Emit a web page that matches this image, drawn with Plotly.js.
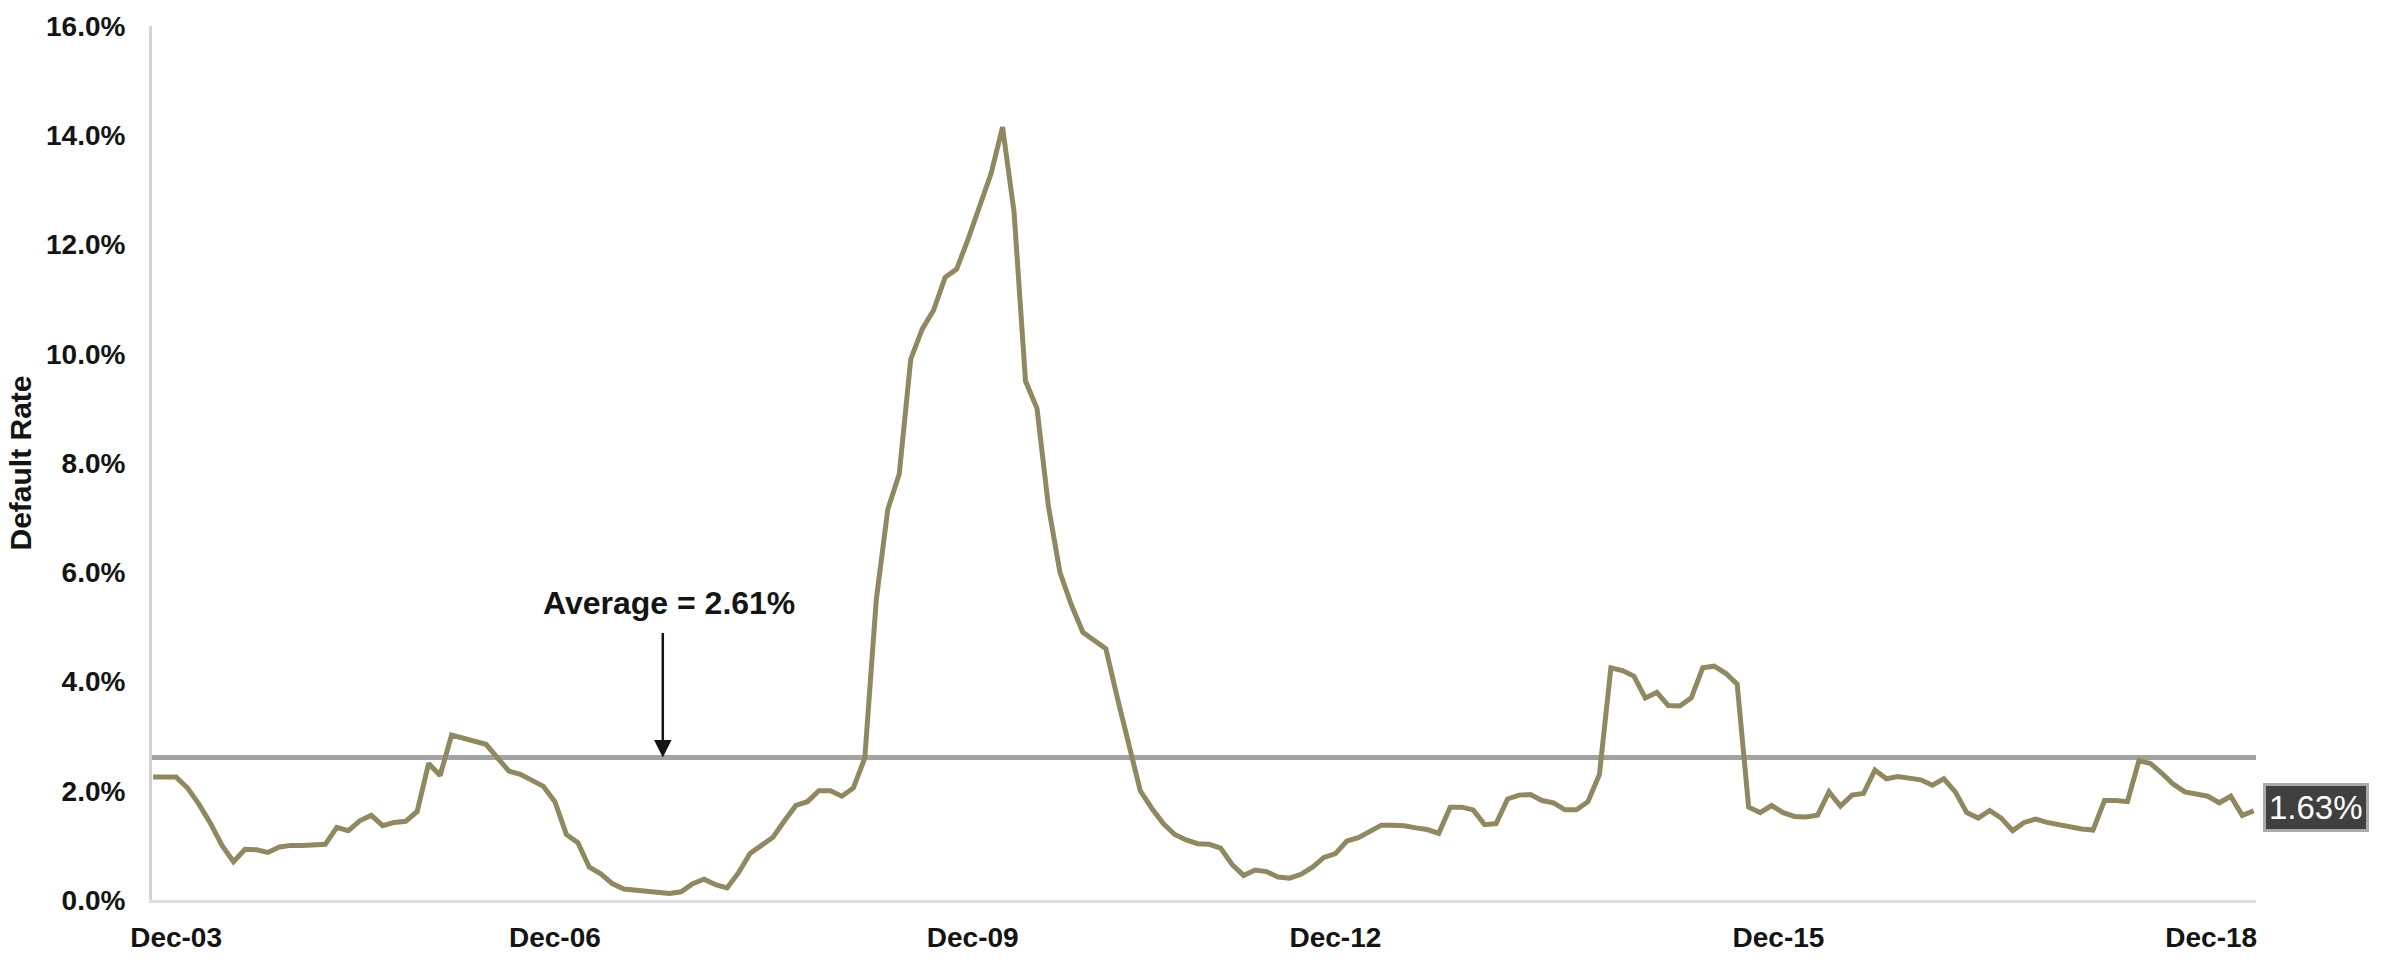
<!DOCTYPE html>
<html>
<head>
<meta charset="utf-8">
<script src="https://cdn.plot.ly/plotly-3.0.1.min.js"></script>
<style>
  html, body { margin: 0; padding: 0; background: #ffffff; }
  #chart { width: 2403px; height: 960px; }
</style>
</head>
<body>
<div id="chart"></div>
<script>
// Monthly default rate (%)
const defaultRate = [
  2.25, 2.25, 2.25, 2.05, 1.75, 1.40, 1.00, 0.70, 0.93, 0.92,
  0.87, 0.97, 1.00, 1.00, 1.00, 1.02, 1.33, 1.27, 1.45, 1.55,
  1.36, 1.42, 1.44, 1.62, 2.50, 2.28, 3.02, 2.97, 2.92, 2.85,
  2.60, 2.36, 2.30, 2.20, 2.08, 1.80, 1.20, 1.05, 0.60, 0.48,
  0.30, 0.20, 0.18, 0.16, 0.12, 0.12, 0.15, 0.30, 0.38, 0.28,
  0.22, 0.50, 0.85, 1.00, 1.15, 1.45, 1.73, 1.80, 2.00, 2.00,
  1.90, 2.05, 2.60, 5.50, 7.15, 7.80, 9.90, 10.45, 10.80, 11.40,
  11.55, 12.10, 12.70, 13.30, 14.15, 12.60, 9.50, 9.00, 7.20, 6.00,
  5.40, 4.90, 4.75, 4.60, 3.70, 2.80, 2.00, 1.68, 1.40, 1.20,
  1.10, 1.03, 1.02, 0.95, 0.65, 0.45, 0.55, 0.52, 0.42, 0.40,
  0.47, 0.60, 0.78, 0.85, 1.08, 1.14, 1.25, 1.37, 1.37, 1.36,
  1.32, 1.29, 1.22, 1.70, 1.70, 1.65, 1.38, 1.40, 1.85, 1.92,
  1.93, 1.82, 1.78, 1.65, 1.65, 1.80, 2.30, 4.25, 4.20, 4.10,
  3.70, 3.80, 3.56, 3.55, 3.70, 4.25, 4.28, 4.15, 3.95, 1.70,
  1.60, 1.73, 1.60, 1.53, 1.52, 1.55, 1.98, 1.72, 1.92, 1.95,
  2.38, 2.22, 2.26, 2.22, 2.20, 2.10, 2.22, 1.98, 1.60, 1.50,
  1.64, 1.50, 1.27, 1.42, 1.48, 1.42, 1.38, 1.33, 1.30, 1.28,
  1.82, 1.82, 1.80, 2.55, 2.50, 2.32, 2.12, 1.98, 1.95, 1.90,
  1.78, 1.90, 1.55, 1.63
];
const monthIndex = defaultRate.map((_, i) => i);

const averageRate = 2.61;
const averageLabel = 'Average = 2.61%';

// x-axis labels and the month positions where they sit in the reference
const tickLabels = ['Dec-03', 'Dec-06', 'Dec-09', 'Dec-12', 'Dec-15', 'Dec-18'];
const tickPositions = [2.0, 35.0, 71.4, 103.0, 141.6, 179.3];

const yTicks = [0, 2, 4, 6, 8, 10, 12, 14, 16];

const FONT = 'Liberation Sans, Arial, sans-serif';
const lastValue = defaultRate[defaultRate.length - 1];

const trace = {
  type: 'scatter',
  mode: 'lines',
  x: monthIndex,
  y: defaultRate,
  line: { color: '#8f8861', width: 5 },
  hoverinfo: 'skip',
  showlegend: false
};

const layout = {
  width: 2403,
  height: 960,
  margin: { l: 152, r: 147, t: 26, b: 60 },
  paper_bgcolor: '#ffffff',
  plot_bgcolor: '#ffffff',
  showlegend: false,
  font: { family: FONT, color: '#141414' },
  xaxis: {
    range: [-0.1, 183.2],
    showgrid: false,
    zeroline: false,
    showline: true,
    linecolor: '#dedede',
    linewidth: 3,
    tickmode: 'array',
    tickvals: tickPositions,
    ticktext: tickLabels,
    ticks: 'outside',
    ticklen: 10,
    tickcolor: 'rgba(0,0,0,0)',
    tickfont: { family: FONT, size: 28, color: '#141414', weight: 'bold' }
  },
  yaxis: {
    range: [0, 16],
    tickmode: 'array',
    tickvals: yTicks,
    ticktext: yTicks.map(v => v.toFixed(1) + '%'),
    showgrid: false,
    zeroline: false,
    showline: true,
    linecolor: '#d2d2d2',
    linewidth: 3,
    ticks: 'outside',
    ticklen: 18,
    tickcolor: 'rgba(0,0,0,0)',
    tickfont: { family: FONT, size: 28, color: '#141414', weight: 'bold' },
    title: {
      text: 'Default Rate',
      font: { family: FONT, size: 30, color: '#141414', weight: 'bold' },
      standoff: 6
    }
  },
  shapes: [
    {
      type: 'line',
      xref: 'paper', x0: 0, x1: 1,
      yref: 'y', y0: averageRate, y1: averageRate,
      line: { color: '#a2a2a2', width: 5 },
      layer: 'below'
    }
  ],
  annotations: [
    {
      xref: 'x', yref: 'y',
      x: 44.9, y: 5.44,
      text: averageLabel,
      showarrow: false,
      xanchor: 'center', yanchor: 'middle',
      font: { family: FONT, size: 32, color: '#141414', weight: 'bold' }
    },
    {
      xref: 'x', yref: 'y',
      x: 44.4, y: averageRate,
      axref: 'pixel', ayref: 'pixel',
      ax: 0, ay: -126,
      text: '',
      showarrow: true,
      arrowhead: 2,
      arrowsize: 1.4,
      arrowwidth: 2.5,
      arrowcolor: '#141414',
      standoff: 0
    },
    {
      xref: 'paper', yref: 'y',
      x: 1, y: lastValue,
      xanchor: 'left', yanchor: 'middle',
      xshift: 7, yshift: 3,
      text: lastValue.toFixed(2) + '%',
      showarrow: false,
      bgcolor: '#404040',
      bordercolor: '#ababab',
      borderwidth: 3,
      borderpad: 3,
      font: { family: FONT, size: 33, color: '#ffffff' }
    }
  ]
};

Plotly.newPlot('chart', [trace], layout, { staticPlot: true, displayModeBar: false });
</script>
</body>
</html>
